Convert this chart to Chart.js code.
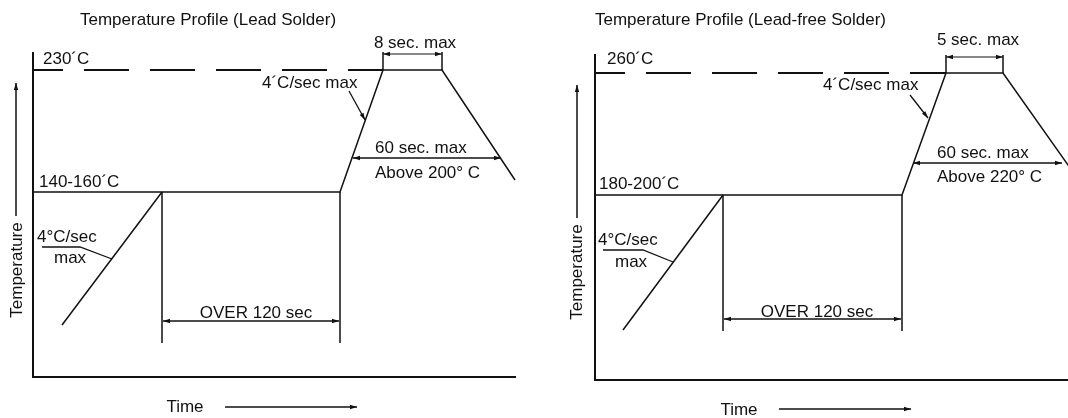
<!DOCTYPE html>
<html>
<head>
<meta charset="utf-8">
<script src="https://cdn.jsdelivr.net/npm/chart.js"></script>
<style>
  body { margin: 0; background: #fff; }
  .wrap { position: relative; width: 1068px; height: 418px; }
  canvas { position: absolute; top: 0; }
  #leadChart { left: 0; }
  #freeChart { left: 534px; }
</style>
</head>
<body>
<div class="wrap">
  <canvas id="leadChart" width="534" height="418"></canvas>
  <canvas id="freeChart" width="534" height="418"></canvas>
</div>
<script>
// diagram units: x runs along the time axis, y up from the time axis

// --- lead solder ---
const leadTitle = 'Temperature Profile (Lead Solder)';
const leadTexts = ['230´C', '140-160´C', '4´C/sec max', '8 sec. max', '60 sec. max', 'Above 200° C', '4°C/sec', 'max', 'OVER 120 sec'];
const leadProfile = [[0, 185], [307, 185], [350, 307], [409, 307], [482, 197]];
const leadPreheat = [[29, 52], [129, 185]];
const leadSoakStart = [[129, 185], [129, 34]];
const leadSoakEnd = [[307, 185], [307, 34]];
const leadPeakLine = [[0, 307], [350, 307]];
const leadPeakTickA = [[350, 307], [350, 325]];
const leadPeakTickB = [[409, 307], [409, 325]];
const leadPeakSpan = [[350, 323], [409, 323]];
const leadLiquidusSpan = [[320, 219], [468, 219]];
const leadSoakSpan = [[130, 56], [306, 56]];
const leadPreheatLeader = [[9, 130], [47, 130], [79, 118]];
const leadRampLeader = [[316, 286], [332, 257]];

// --- lead-free solder ---
const freeTitle = 'Temperature Profile (Lead-free Solder)';
const freeTexts = ['260´C', '180-200´C', '4´C/sec max', '5 sec. max', '60 sec. max', 'Above 220° C', '4°C/sec', 'max', 'OVER 120 sec'];
const freeProfile = [[0, 185], [307, 185], [351, 307], [408, 307], [478, 208]];
const freePreheat = [[28, 50], [128, 185]];
const freeSoakStart = [[128, 185], [128, 49]];
const freeSoakEnd = [[307, 185], [307, 49]];
const freePeakLine = [[0, 307], [351, 307]];
const freePeakTickA = [[351, 307], [351, 325]];
const freePeakTickB = [[408, 307], [408, 325]];
const freePeakSpan = [[351, 323], [408, 323]];
const freeLiquidusSpan = [[318, 217], [467, 217]];
const freeSoakSpan = [[129, 61], [306, 61]];
const freePreheatLeader = [[8, 130], [48, 130], [78, 118]];
const freeRampLeader = [[315, 285], [333, 262]];

const axisTexts = ['Time', 'Temperature'];

const ink = '#111';
const font = '17px "Liberation Sans", Arial, sans-serif';

function line(points, extra) {
  return Object.assign({
    data: points.map(p => ({ x: p[0], y: p[1] })),
    showLine: true,
    borderColor: ink,
    borderWidth: 1.5,
    pointRadius: 0,
    fill: false,
    clip: false
  }, extra);
}

function head(ctx, from, to) {
  const a = Math.atan2(to.y - from.y, to.x - from.x);
  ctx.save();
  ctx.translate(to.x, to.y);
  ctx.rotate(a);
  ctx.beginPath();
  ctx.moveTo(0, 0);
  ctx.lineTo(-7, -2.2);
  ctx.lineTo(-7, 2.2);
  ctx.closePath();
  ctx.fill();
  ctx.restore();
}

const diagramText = {
  id: 'diagramText',
  afterDraw(chart) {
    const ctx = chart.ctx;
    const sx = chart.scales.x, sy = chart.scales.y;
    const P = (x, y) => ({ x: sx.getPixelForValue(x), y: sy.getPixelForValue(y) });
    ctx.save();
    ctx.fillStyle = ink;

    // arrow heads at the ends of dimension / leader lines
    chart.data.datasets.forEach((ds, i) => {
      if (!ds.arrows) return;
      const pts = chart.getDatasetMeta(i).data;
      const n = pts.length;
      head(ctx, pts[n - 2], pts[n - 1]);
      if (ds.arrows === 'both') head(ctx, pts[1], pts[0]);
    });

    ctx.font = font;
    ctx.textBaseline = 'middle';
    const cfg = chart.options.plugins.diagramText;
    cfg.labels.forEach((t, i) => {
      const at = cfg.at[i];
      const p = P(at[0], at[1]);
      ctx.textAlign = at[2];
      ctx.fillText(t, p.x, p.y);
    });

    // title
    const tp = P(cfg.titleAt[0], cfg.titleAt[1]);
    ctx.textAlign = 'left';
    ctx.fillText(cfg.title, tp.x, tp.y);

    // axis names
    const xp = P(cfg.timeAt[0], cfg.timeAt[1]);
    ctx.textAlign = 'center';
    ctx.fillText(axisTexts[0], xp.x, xp.y);
    const yp = P(cfg.tempAt[0], cfg.tempAt[1]);
    ctx.translate(yp.x, yp.y);
    ctx.rotate(-Math.PI / 2);
    ctx.fillText(axisTexts[1], 0, 0);
    ctx.restore();
  }
};

function makeChart(id, d) {
  const axis = (max) => ({
    type: 'linear', min: 0, max: max,
    ticks: { display: false },
    grid: { display: false, drawTicks: false },
    border: { display: true, color: ink, width: 2 }
  });
  return new Chart(document.getElementById(id), {
    type: 'scatter',
    data: {
      datasets: [
        line(d.profile),
        line(d.preheat),
        line(d.soakStart),
        line(d.soakEnd),
        line(d.peakLine, { borderWidth: 1.8, borderDash: [45, 21], borderDashOffset: 15 }),
        line(d.peakTickA),
        line(d.peakTickB),
        line(d.peakSpan, { arrows: 'both', borderWidth: 1.2 }),
        line(d.liquidusSpan, { arrows: 'both' }),
        line(d.soakSpan, { arrows: 'both' }),
        line(d.preheatLeader, { borderWidth: 1.3 }),
        line(d.rampLeader, { arrows: 'end', borderWidth: 1.3 }),
        line(d.tempArrow, { arrows: 'end' }),
        line(d.timeArrow, { arrows: 'end' })
      ]
    },
    options: {
      responsive: false,
      animation: false,
      events: [],
      layout: { padding: d.pad },
      plugins: {
        legend: { display: false },
        tooltip: { enabled: false },
        diagramText: {
          title: d.title, titleAt: d.titleAt,
          labels: d.texts, at: d.textAt,
          timeAt: d.timeAt, tempAt: d.tempAt
        }
      },
      scales: { x: axis(d.xMax), y: axis(d.yMax) }
    },
    plugins: [diagramText]
  });
}

makeChart('leadChart', {
  title: leadTitle, texts: leadTexts,
  profile: leadProfile, preheat: leadPreheat,
  soakStart: leadSoakStart, soakEnd: leadSoakEnd,
  peakLine: leadPeakLine, peakTickA: leadPeakTickA, peakTickB: leadPeakTickB,
  peakSpan: leadPeakSpan, liquidusSpan: leadLiquidusSpan, soakSpan: leadSoakSpan,
  preheatLeader: leadPreheatLeader, rampLeader: leadRampLeader,
  tempArrow: [[-17, 161], [-17, 294]],
  timeArrow: [[192, -30], [324, -30]],
  pad: { left: 33, top: 53, right: 19, bottom: 41 },
  xMax: 482, yMax: 324,
  titleAt: [47, 357], timeAt: [152, -30], tempAt: [-16, 107],
  textAt: [[10, 318, 'left'], [6, 195, 'left'], [229, 294, 'left'], [382, 334, 'center'],
           [342, 229, 'left'], [342, 204, 'left'], [4, 140, 'left'], [21, 119, 'left'], [223, 64, 'center']]
});

makeChart('freeChart', {
  title: freeTitle, texts: freeTexts,
  profile: freeProfile, preheat: freePreheat,
  soakStart: freeSoakStart, soakEnd: freeSoakEnd,
  peakLine: freePeakLine, peakTickA: freePeakTickA, peakTickB: freePeakTickB,
  peakSpan: freePeakSpan, liquidusSpan: freeLiquidusSpan, soakSpan: freeSoakSpan,
  preheatLeader: freePreheatLeader, rampLeader: freeRampLeader,
  tempArrow: [[-18, 162], [-18, 295]],
  timeArrow: [[184, -29], [316, -29]],
  pad: { left: 61, top: 55, right: 0, bottom: 38 },
  xMax: 473, yMax: 325,
  titleAt: [0, 360], timeAt: [144, -30], tempAt: [-18, 108],
  textAt: [[12, 321, 'left'], [4, 196, 'left'], [228, 295, 'left'], [383, 340, 'center'],
           [342, 227, 'left'], [342, 203, 'left'], [3, 140, 'left'], [20, 118, 'left'], [222, 68, 'center']]
});
</script>
</body>
</html>
